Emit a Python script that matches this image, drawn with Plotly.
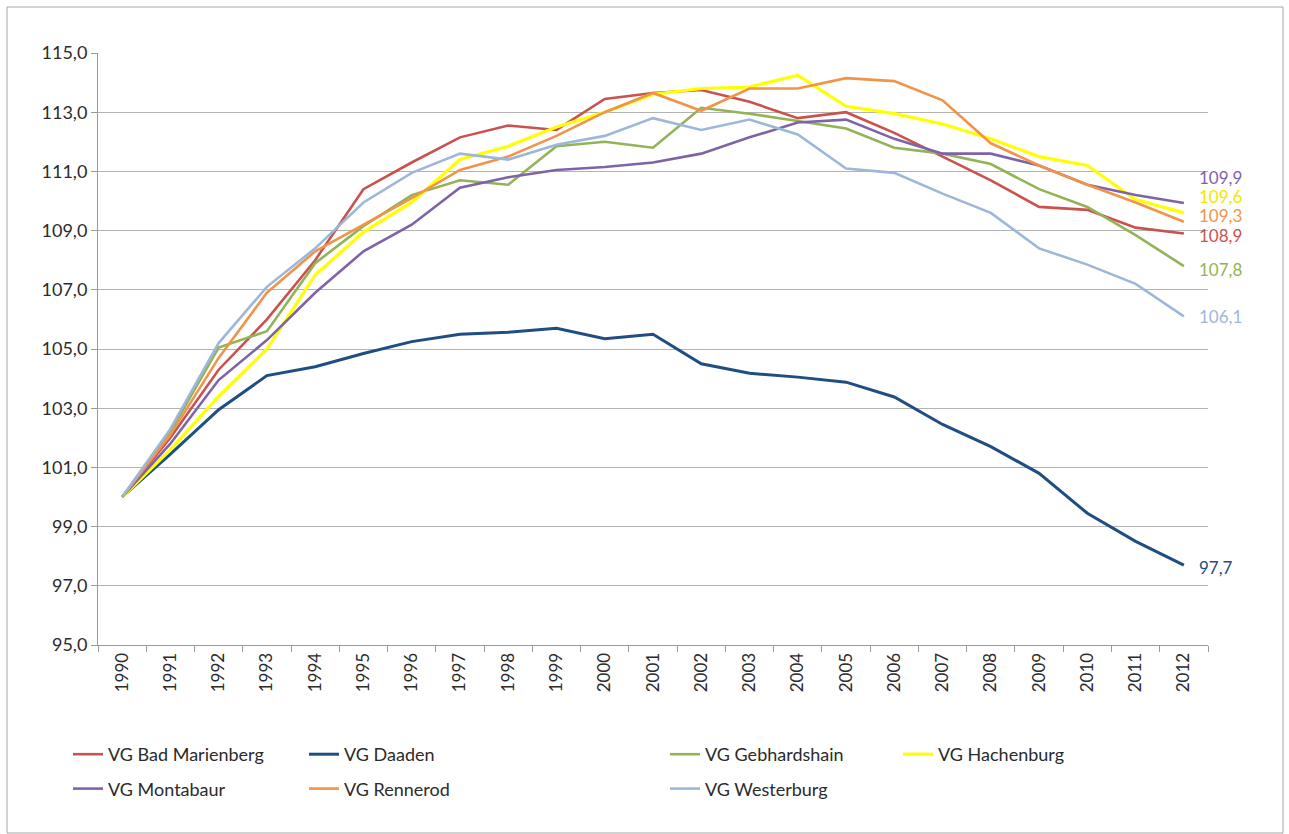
import plotly.graph_objects as go

years = [str(y) for y in range(1990, 2013)]

bad_marienberg = [100.0, 102.0, 104.3, 106.0, 108.0, 110.4, 111.3, 112.15, 112.55, 112.4, 113.45, 113.65,
                  113.75, 113.35, 112.8, 113.0, 112.3, 111.5, 110.7, 109.8, 109.7, 109.1, 108.9]
daaden = [100.0, 101.45, 102.95, 104.1, 104.4, 104.85, 105.25, 105.5, 105.57, 105.7, 105.35, 105.5,
          104.5, 104.18, 104.05, 103.88, 103.38, 102.45, 101.7, 100.8, 99.45, 98.5, 97.7]
gebhardshain = [100.0, 102.2, 105.05, 105.6, 107.9, 109.15, 110.2, 110.7, 110.55, 111.85, 112.0, 111.8,
                113.15, 112.95, 112.7, 112.45, 111.8, 111.6, 111.25, 110.4, 109.8, 108.85, 107.8]
hachenburg = [100.0, 101.6, 103.4, 105.0, 107.5, 108.95, 109.95, 111.4, 111.85, 112.5, 113.0, 113.6,
              113.8, 113.85, 114.25, 113.2, 112.95, 112.6, 112.1, 111.5, 111.2, 110.05, 109.6]
montabaur = [100.0, 101.8, 103.95, 105.3, 106.9, 108.3, 109.2, 110.45, 110.8, 111.05, 111.15, 111.3,
             111.6, 112.15, 112.65, 112.75, 112.1, 111.6, 111.6, 111.2, 110.55, 110.2, 109.93]
rennerod = [100.0, 102.1, 104.7, 106.9, 108.3, 109.2, 110.1, 111.05, 111.5, 112.2, 113.0, 113.65,
            113.05, 113.8, 113.8, 114.15, 114.05, 113.4, 111.95, 111.2, 110.55, 109.95, 109.3]
westerburg = [100.0, 102.3, 105.2, 107.1, 108.4, 109.95, 110.95, 111.6, 111.4, 111.9, 112.2, 112.8,
              112.4, 112.75, 112.25, 111.1, 110.95, 110.25, 109.6, 108.4, 107.85, 107.2, 106.1]

series = [
    ("VG Bad Marienberg", bad_marienberg),
    ("VG Daaden", daaden),
    ("VG Gebhardshain", gebhardshain),
    ("VG Hachenburg", hachenburg),
    ("VG Montabaur", montabaur),
    ("VG Rennerod", rennerod),
    ("VG Westerburg", westerburg),
]

style = {
    "VG Bad Marienberg": dict(color="#C9524E", width=2.6, legend="legend", label_shift=-2),
    "VG Daaden": dict(color="#1F4E82", width=3.0, legend="legend2", label_shift=-2),
    "VG Gebhardshain": dict(color="#93B356", width=2.6, legend="legend3", label_shift=-3),
    "VG Hachenburg": dict(color="#FFFF00", width=3.2, legend="legend4", label_shift=16),
    "VG Montabaur": dict(color="#7F63A8", width=2.6, legend="legend", label_shift=26),
    "VG Rennerod": dict(color="#F0944A", width=2.6, legend="legend2", label_shift=6),
    "VG Westerburg": dict(color="#9DB7DB", width=2.6, legend="legend3", label_shift=0),
}
label_colors = {"VG Hachenburg": "#F2E600"}

FONT = "Lato, 'Open Sans', sans-serif"
TXT = "#2b2b2b"

fig = go.Figure()
last_idx = len(years) - 1
for name, vals in series:
    st = style[name]
    fig.add_trace(go.Scatter(
        x=years, y=vals, name=name, mode="lines",
        line=dict(color=st["color"], width=st["width"]),
        legend=st["legend"], legendgroup=name,
    ))
    fig.add_annotation(
        x=last_idx, y=vals[-1], text=f"{vals[-1]:.1f}".replace(".", ","),
        xanchor="left", yanchor="middle", xshift=14, yshift=st["label_shift"],
        showarrow=False, borderpad=0,
        font=dict(family=FONT, size=17, color=label_colors.get(name, st["color"])),
    )

W, H = 1289, 834
L, R, T, B = 98, 81, 53, 189
pw, ph = W - L - R, H - T - B


def px(x):
    return (x - L) / pw


def py(y):
    return (H - B - y) / ph


legend_common = dict(orientation="v", xanchor="left", yanchor="top",
                     bgcolor="rgba(0,0,0,0)", tracegroupgap=8,
                     font=dict(family=FONT, size=18, color=TXT), itemwidth=30)

fig.update_layout(
    width=W, height=H,
    margin=dict(l=L, r=R, t=T, b=B),
    paper_bgcolor="white", plot_bgcolor="white",
    separators=",.",
    font=dict(family=FONT, size=17, color=TXT),
    legend=dict(x=px(68), y=py(736), **legend_common),
    legend2=dict(x=px(304), y=py(736), **legend_common),
    legend3=dict(x=px(665), y=py(736), **legend_common),
    legend4=dict(x=px(898), y=py(736), **legend_common),
    xaxis=dict(type="category", range=[-0.5, 22.5], tickangle=-90,
               ticks="outside", tickson="boundaries", ticklen=6, tickcolor="#9a9a9a",
               showline=True, linecolor="#9a9a9a", linewidth=1,
               showgrid=False, tickfont=dict(family=FONT, size=17, color=TXT)),
    yaxis=dict(range=[95, 115], dtick=2, tick0=95, tickformat=".1f",
               ticks="outside", ticklen=6, tickcolor="#9a9a9a",
               showline=True, linecolor="#9a9a9a", linewidth=1,
               showgrid=True, gridcolor="#b3b3b3", gridwidth=1,
               zeroline=False, tickfont=dict(family=FONT, size=18, color=TXT)),
    shapes=[dict(type="rect", xref="paper", yref="paper",
                 x0=px(7), x1=px(1283), y0=py(833), y1=py(7),
                 line=dict(color="#a6a6a6", width=1), layer="below")],
)

fig.write_html("out.html", config={"displayModeBar": False},
               post_script="document.body.style.margin='0';")
